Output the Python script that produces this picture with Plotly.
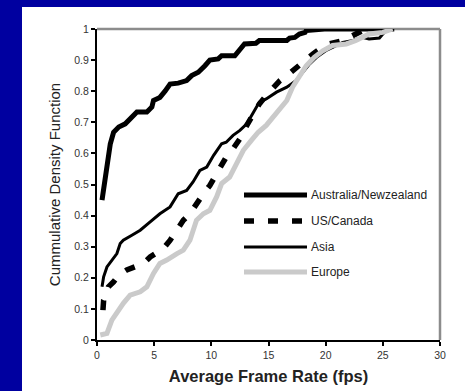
import plotly.graph_objects as go

# ---- data ----
aus_x = [0.44, 0.58, 0.87, 1.16, 1.45, 1.9, 2.47, 3.05, 3.49, 4.36, 4.8, 4.94, 5.5, 5.95, 6.39,
         7.1, 7.84, 8.28, 8.86, 9.44, 9.87, 10.6, 10.9, 12.05, 12.49, 12.9, 13.9, 14.2, 16.6,
         16.85, 17.3, 17.7, 18.2, 18.3, 19.9, 23.2, 26.0]
aus_y = [0.45, 0.49, 0.578, 0.63, 0.668, 0.685, 0.695, 0.717, 0.733, 0.733, 0.749, 0.77, 0.78,
         0.80, 0.823, 0.826, 0.834, 0.85, 0.861, 0.882, 0.90, 0.904, 0.914, 0.914, 0.936, 0.952,
         0.954, 0.963, 0.963, 0.971, 0.973, 0.984, 0.989, 0.995, 1.0, 1.0, 1.0]

us_x = [0.52, 0.58, 0.81, 1.0, 1.45, 1.9, 2.6, 3.2, 4.07, 4.65, 5.2, 5.8, 6.4, 7.0, 7.55, 8.13,
        8.7, 9.3, 9.87, 10.3, 10.75, 11.3, 11.9, 12.5, 13.1, 13.65, 14.2, 14.8, 15.4, 16.0, 16.6,
        17.1, 17.7, 18.3, 18.9, 19.5, 20.3, 21.5, 22.4, 23.0, 23.5]
us_y = [0.096, 0.128, 0.144, 0.171, 0.187, 0.209, 0.225, 0.235, 0.246, 0.267, 0.278, 0.294, 0.321,
        0.353, 0.385, 0.406, 0.439, 0.47, 0.497, 0.524, 0.556, 0.588, 0.615, 0.647, 0.69, 0.727,
        0.759, 0.786, 0.813, 0.834, 0.85, 0.866, 0.882, 0.904, 0.92, 0.936, 0.952, 0.963, 0.979,
        0.989, 1.0]

asia_x = [0.44, 0.58, 0.87, 1.3, 1.74, 2.03, 2.3, 3.05, 3.78, 4.65, 5.5, 6.39, 7.1, 7.84, 8.4,
          9.0, 9.6, 10.2, 10.9, 11.3, 11.9, 12.5, 13.1, 13.7, 14.2, 14.8, 15.7, 16.6, 17.4, 18.0,
          18.6, 19.2, 20.0, 20.6, 21.5, 22.4, 23.2, 23.8, 24.7, 25.0, 25.5]
asia_y = [0.171, 0.203, 0.235, 0.257, 0.278, 0.31, 0.321, 0.337, 0.353, 0.38, 0.406, 0.428, 0.47,
          0.481, 0.508, 0.545, 0.556, 0.594, 0.631, 0.636, 0.658, 0.674, 0.695, 0.733, 0.765,
          0.775, 0.797, 0.813, 0.834, 0.861, 0.888, 0.909, 0.93, 0.941, 0.957, 0.963, 0.973,
          0.968, 0.971, 0.984, 1.0]

eu_x = [0.29, 0.87, 1.3, 1.74, 2.3, 2.9, 3.78, 4.36, 4.94, 5.5, 6.1, 7.0, 7.55, 8.13, 8.7, 9.3,
        9.87, 10.46, 10.9, 11.6, 12.2, 12.8, 13.5, 14.1, 14.8, 15.4, 16.0, 16.6, 17.1, 17.7, 18.3,
        19.0, 19.75, 20.6, 21.8, 22.65, 23.2, 23.8, 25.0, 25.85]
eu_y = [0.016, 0.021, 0.064, 0.09, 0.118, 0.144, 0.155, 0.171, 0.214, 0.246, 0.257, 0.278, 0.289,
        0.321, 0.385, 0.406, 0.417, 0.46, 0.503, 0.524, 0.567, 0.61, 0.642, 0.668, 0.69, 0.717,
        0.749, 0.77, 0.813, 0.85, 0.882, 0.909, 0.93, 0.947, 0.952, 0.963, 0.973, 0.984, 0.989, 1.0]

series_names = ["Australia/Newzealand", "US/Canada", "Asia", "Europe"]
x_ticks = [0, 5, 10, 15, 20, 25, 30]
y_ticks = [0, 0.1, 0.2, 0.3, 0.4, 0.5, 0.6, 0.7, 0.8, 0.9, 1]
y_tick_text = ["0", "0.1", "0.2", "0.3", "0.4", "0.5", "0.6", "0.7", "0.8", "0.9", "1"]

BLUE = "#0000a0"
FONT = "Liberation Sans, Arial, sans-serif"

W, H = 465, 391
L, R, T, B = 97, 25, 29, 51
pw, ph = W - L - R, H - T - B

def px_x(p):
    return (p - L) / pw

def px_y(p):
    return (H - B - p) / ph

fig = go.Figure()
styles = [
    dict(color="black", width=5),
    dict(color="black", width=5.5, dash="10px,14px"),
    dict(color="black", width=3),
    dict(color="#cacaca", width=5),
]
data = [(aus_x, aus_y), (us_x, us_y), (asia_x, asia_y), (eu_x, eu_y)]
for name, (xs, ys), st in zip(series_names, data, styles):
    fig.add_trace(go.Scatter(x=xs, y=ys, mode="lines", name=name, line=st,
                             showlegend=False))

# legend key drawn inside the plot (sample line + label per series)
legend_rows_px = [195, 221, 247, 272]
shapes = [
    # blue slide frame: left and top strips
    dict(type="rect", xref="paper", yref="paper", x0=px_x(0), x1=px_x(22),
         y0=px_y(H), y1=px_y(0), fillcolor=BLUE, line=dict(width=0), layer="above"),
    dict(type="rect", xref="paper", yref="paper", x0=px_x(22), x1=px_x(W),
         y0=px_y(7), y1=px_y(0), fillcolor=BLUE, line=dict(width=0), layer="above"),
    # grey top and right border of the plot area
    dict(type="line", xref="x domain", yref="y domain", x0=0, x1=1, y0=1, y1=1,
         line=dict(color="#8c8c8c", width=2.5), layer="below"),
    dict(type="line", xref="x domain", yref="y domain", x0=1, x1=1, y0=0, y1=1,
         line=dict(color="#8c8c8c", width=2.5), layer="below"),
]
annotations = []
for name, st, row in zip(series_names, styles, legend_rows_px):
    shapes.append(dict(type="line", xref="paper", yref="paper",
                       x0=px_x(244), x1=px_x(307), y0=px_y(row), y1=px_y(row),
                       line=st, layer="above"))
    annotations.append(dict(xref="paper", yref="paper", x=px_x(309), y=px_y(row),
                            xanchor="left", yanchor="middle", text=name, showarrow=False,
                            font=dict(size=12, color="#222222", family=FONT)))

fig.update_layout(
    template="none",
    width=W, height=H,
    autosize=False,
    margin=dict(l=L, r=R, t=T, b=B, pad=0),
    paper_bgcolor="white",
    plot_bgcolor="white",
    font=dict(family=FONT, color="#333333"),
    showlegend=False,
    xaxis=dict(range=[0, 30], tickvals=x_ticks, ticks="outside", ticklen=4, tickwidth=1.5,
               tickcolor="black", showline=True, linecolor="black", linewidth=2,
               showgrid=False, zeroline=False, automargin=False,
               tickfont=dict(size=10.5, color="#333333"),
               title=dict(text="<b>Average Frame Rate (fps)</b>",
                          font=dict(size=16.5, color="#222222"), standoff=11)),
    yaxis=dict(range=[0, 1], tickvals=y_ticks, ticktext=y_tick_text, ticks="outside",
               ticklen=4, tickwidth=1.5, tickcolor="black", showline=True, linecolor="black",
               linewidth=2, showgrid=False, zeroline=False, automargin=False,
               tickfont=dict(size=10.5, color="#333333"),
               title=dict(text="Cummulative Density Function",
                          font=dict(size=15, color="#222222"), standoff=10)),
    shapes=shapes,
    annotations=annotations,
)

fig.write_html("out.html")
